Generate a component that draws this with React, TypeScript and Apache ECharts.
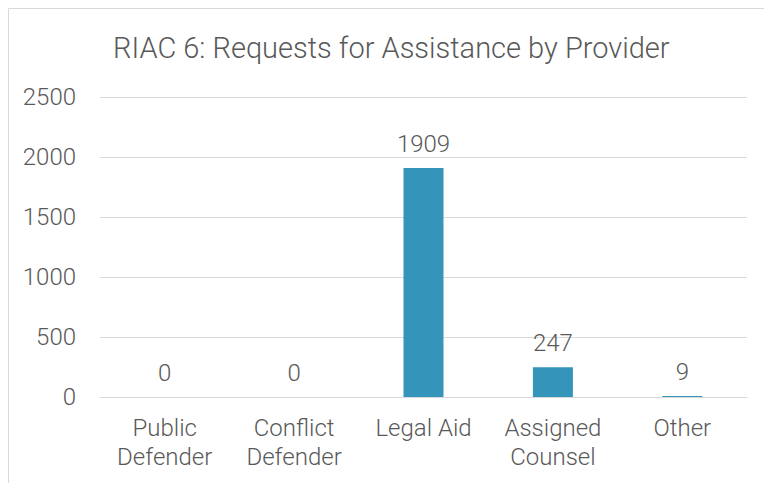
import React, { useEffect, useRef } from "react";
import * as echarts from "echarts";

const categories = ["Public\nDefender", "Conflict\nDefender", "Legal Aid", "Assigned\nCounsel", "Other"];
const requests = [0, 0, 1909, 247, 9];
const yTicks = { min: 0, max: 2500, interval: 500 };

const TEXT = "#595959";
const FONT = "Roboto";

export default function App() {
  const ref = useRef<HTMLDivElement>(null);

  useEffect(() => {
    if (!ref.current) return;
    const chart = echarts.init(ref.current, null, { renderer: "svg" });
    chart.setOption({
      animation: false,
      backgroundColor: "#ffffff",
      title: {
        text: "RIAC 6: Requests for Assistance by Provider",
        left: 108,
        top: 28,
        textStyle: { color: TEXT, fontFamily: FONT, fontWeight: 300, fontSize: 29 },
      },
      graphic: [
        {
          type: "rect",
          shape: { x: 8.5, y: 8.5, width: 800, height: 520 },
          style: { fill: "none", stroke: "#d9d9d9", lineWidth: 1 },
          silent: true,
        },
      ],
      grid: { left: 100, right: 17, top: 97, bottom: 86 },
      xAxis: {
        type: "category",
        data: categories,
        axisLine: { show: true, lineStyle: { color: "#d9d9d9", width: 1 } },
        axisTick: { show: false },
        axisLabel: {
          color: TEXT,
          fontFamily: FONT,
          fontWeight: 300,
          fontSize: 24,
          lineHeight: 29,
          margin: 16,
          interval: 0,
        },
      },
      yAxis: {
        type: "value",
        min: yTicks.min,
        max: yTicks.max,
        interval: yTicks.interval,
        axisLine: { show: false },
        axisTick: { show: false },
        splitLine: { lineStyle: { color: "#d9d9d9", width: 1 } },
        axisLabel: {
          color: TEXT,
          fontFamily: FONT,
          fontWeight: 300,
          fontSize: 24,
          margin: 24,
          formatter: (v: number) => String(v),
        },
      },
      series: [
        {
          type: "bar",
          data: requests,
          barWidth: 40,
          itemStyle: { color: "#3494ba" },
          label: {
            show: true,
            position: "top",
            distance: 12,
            color: TEXT,
            fontFamily: FONT,
            fontWeight: 300,
            fontSize: 24,
          },
        },
      ],
    });
    return () => chart.dispose();
  }, []);

  return (
    <div
      ref={ref}
      style={{ position: "absolute", left: 0, top: 0, width: 764, height: 483 }}
    />
  );
}
